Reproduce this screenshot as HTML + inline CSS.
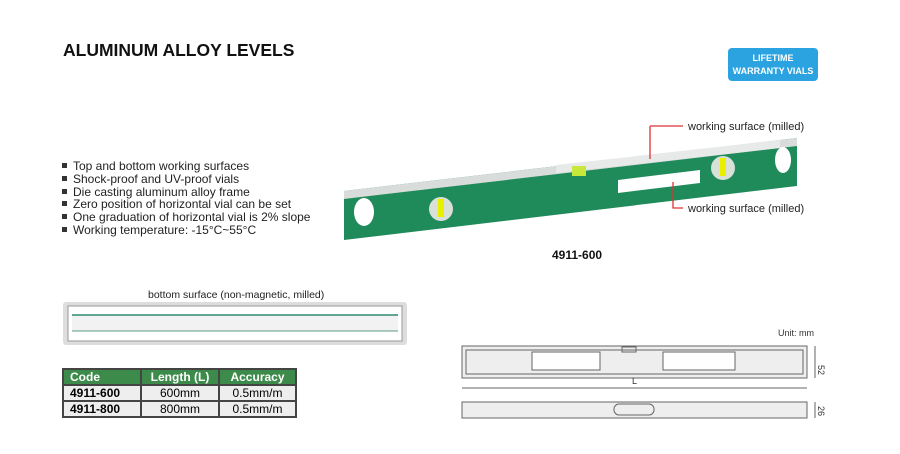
<!DOCTYPE html>
<html><head><style>
body{margin:0;width:900px;height:454px;background:#fff;font-family:"Liberation Sans",sans-serif;position:relative;overflow:hidden}
.a{position:absolute}
h1{position:absolute;left:63px;top:40px;margin:0;font-size:17.5px;font-weight:bold;color:#111}
ul{position:absolute;left:62px;top:160px;margin:0;padding:0;list-style:none;font-size:12px;line-height:12.8px;color:#222}
ul li:before{content:"";display:inline-block;width:5px;height:5px;background:#333;margin-right:6px;vertical-align:2px}
table{position:absolute;left:62px;top:368px;border-collapse:collapse;font-size:12px}
td{border:2px solid #444;height:13px;padding:0 6px;text-align:center;background:#eee}
tr.h td{background:#3d8b4a;color:#fff;font-weight:bold;text-align:left}
tr.h td+td{text-align:center}
</style></head><body>
<h1>ALUMINUM ALLOY LEVELS</h1>
<div class="a" style="left:728px;top:48px;width:90px;height:33px;background:#2ba3e0;border-radius:4px;color:#fff;font-size:9px;font-weight:bold;text-align:center;line-height:13px;padding-top:4px;box-sizing:border-box">LIFETIME<br>WARRANTY VIALS</div>
<ul><li>Top and bottom working surfaces</li><li>Shock-proof and UV-proof vials</li><li>Die casting aluminum alloy frame</li><li>Zero position of horizontal vial can be set</li><li>One graduation of horizontal vial is 2% slope</li><li>Working temperature: -15°C~55°C</li></ul>
<svg class="a" style="left:0;top:0" width="900" height="454">
<polygon points="344,191 797,138 797,186 344,240" fill="#1f8a5a"/>
<polygon points="344,191 797,138 797,146 344,199" fill="#d8dcda"/>
<polygon points="556,165 780,140 780,148 556,173" fill="#e8eaea"/>
<ellipse cx="364" cy="212" rx="10" ry="14" fill="#fff"/>
<ellipse cx="783" cy="160" rx="8" ry="13" fill="#fff"/>
<polygon points="618,180 700,170 700,183 618,193" fill="#fff"/>
<circle cx="441" cy="209" r="12" fill="#d9e0d8"/><rect x="438" y="199" width="6" height="18" fill="#e8f000"/>
<circle cx="723" cy="168" r="12" fill="#d9e0d8"/><rect x="720" y="158" width="6" height="18" fill="#e8f000"/>
<rect x="572" y="166" width="14" height="10" fill="#c7e83a"/>
<path d="M650 126V159 M650 126H683 M673 182V208H683" stroke="#d33" stroke-width="1.3" fill="none"/>
<text x="688" y="130" font-size="11" fill="#222">working surface (milled)</text>
<text x="688" y="212" font-size="11" fill="#222">working surface (milled)</text>
<text x="552" y="259" font-size="12" font-weight="bold" fill="#111">4911-600</text>
<text x="148" y="298" font-size="10.5" fill="#222">bottom surface (non-magnetic, milled)</text>
<rect x="63" y="302" width="344" height="43" rx="3" fill="#ddd"/>
<rect x="68" y="306" width="334" height="35" fill="#fff" stroke="#999"/>
<rect x="72" y="315" width="326" height="16" fill="#f2f2f2"/>
<line x1="72" y1="315" x2="398" y2="315" stroke="#2e8a70" stroke-width="1.5"/>
<line x1="72" y1="331" x2="398" y2="331" stroke="#5a9a88" stroke-width="1"/>
<text x="778" y="336" font-size="9" fill="#333">Unit: mm</text>
<g fill="none" stroke="#666" stroke-width="1">
<rect x="462" y="346" width="345" height="32" fill="#eee"/>
<rect x="466" y="350" width="337" height="24"/>
<rect x="532" y="352" width="68" height="18" fill="#fff"/>
<rect x="663" y="352" width="72" height="18" fill="#fff"/>
<rect x="622" y="347" width="14" height="5"/>
<line x1="462" y1="388" x2="807" y2="388"/>
<rect x="462" y="402" width="345" height="16" fill="#eee"/>
<rect x="614" y="404" width="40" height="11" rx="5"/>
<line x1="815" y1="346" x2="815" y2="378"/><line x1="815" y1="402" x2="815" y2="418"/>
</g>
<text x="632" y="384" font-size="9" fill="#333">L</text>
<text x="818" y="365" font-size="9" fill="#333" transform="rotate(90 818 365)">52</text>
<text x="818" y="406" font-size="9" fill="#333" transform="rotate(90 818 406)">26</text>
</svg>
<table>
<tr class="h"><td style="width:64px">Code</td><td style="width:64px">Length (L)</td><td style="width:63px">Accuracy</td></tr>
<tr><td style="text-align:left;font-weight:bold">4911-600</td><td>600mm</td><td>0.5mm/m</td></tr>
<tr><td style="text-align:left;font-weight:bold">4911-800</td><td>800mm</td><td>0.5mm/m</td></tr>
</table>
</body></html>
